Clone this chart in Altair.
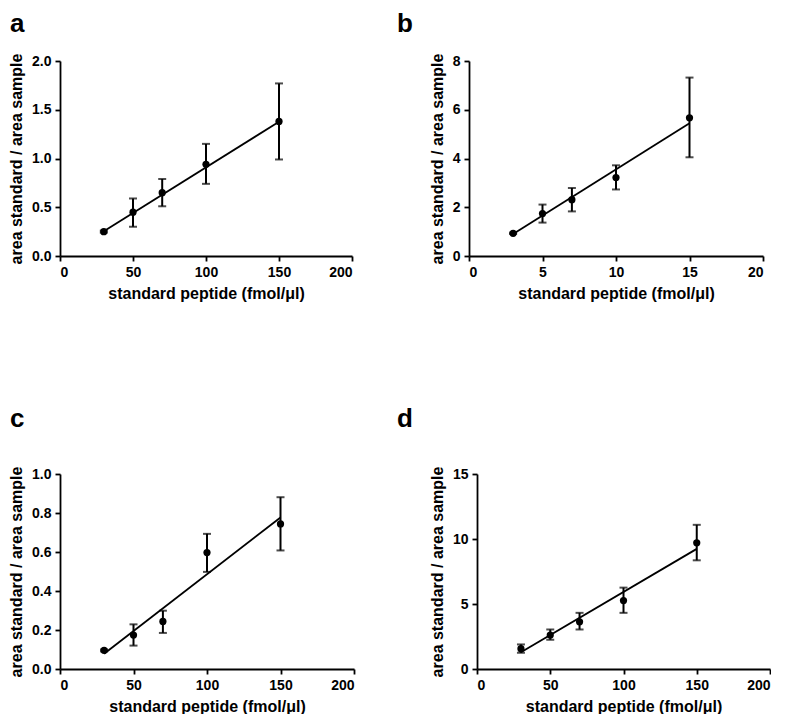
import altair as alt
import pandas as pd

FONT = "Liberation Sans"
XTITLE = "standard peptide (fmol/μl)"
YTITLE = "area standard / area sample"

# ---- data ----
a_x = [30, 50, 70, 100, 150]
a_y = [0.25, 0.45, 0.65, 0.94, 1.38]
a_lo = [0.24, 0.30, 0.51, 0.74, 0.99]
a_hi = [0.26, 0.59, 0.79, 1.15, 1.77]
a_fit_x = [30, 150]
a_fit_y = [0.253, 1.377]

b_x = [3, 5, 7, 10, 15]
b_y = [0.93, 1.74, 2.31, 3.22, 5.67]
b_lo = [0.90, 1.37, 1.83, 2.73, 4.05]
b_hi = [0.96, 2.11, 2.79, 3.72, 7.32]
b_fit_x = [3, 15]
b_fit_y = [0.90, 5.45]

c_x = [30, 50, 70, 100, 150]
c_y = [0.096, 0.174, 0.244, 0.597, 0.744]
c_lo = [0.09, 0.12, 0.185, 0.498, 0.608]
c_hi = [0.10, 0.229, 0.299, 0.693, 0.881]
c_fit_x = [30, 150]
c_fit_y = [0.078, 0.777]

d_x = [30, 50, 70, 100, 150]
d_y = [1.56, 2.61, 3.63, 5.26, 9.71]
d_lo = [1.25, 2.25, 3.04, 4.32, 8.36]
d_hi = [1.89, 3.04, 4.32, 6.26, 11.09]
d_fit_x = [30, 150]
d_fit_y = [1.29, 9.24]

a_xticks = [0, 50, 100, 150, 200]
a_yticks = [0, 0.5, 1.0, 1.5, 2.0]
b_xticks = [0, 5, 10, 15, 20]
b_yticks = [0, 2, 4, 6, 8]
c_xticks = [0, 50, 100, 150, 200]
c_yticks = [0, 0.2, 0.4, 0.6, 0.8, 1.0]
d_xticks = [0, 50, 100, 150, 200]
d_yticks = [0, 5, 10, 15]


def panel(letter, xs, ys, lo, hi, fx, fy, xticks, yticks, yfmt, w, h, dx, offset):
    df = pd.DataFrame({"x": xs, "y": ys, "lo": lo, "hi": hi})
    fit = pd.DataFrame({"x": fx, "y": fy})
    xs_ = alt.Scale(domain=[xticks[0], xticks[-1]], nice=False)
    ys_ = alt.Scale(domain=[yticks[0], yticks[-1]], nice=False)
    xax = alt.Axis(values=xticks, title=XTITLE, format="d")
    yax = alt.Axis(values=yticks, title=YTITLE, format=yfmt)
    X = alt.X("x:Q", scale=xs_, axis=xax)
    Y = alt.Y("y:Q", scale=ys_, axis=yax)
    base = alt.Chart(df)
    line = alt.Chart(fit).mark_line(color="black", strokeWidth=1.8).encode(x=X, y=Y)
    bars = base.mark_rule(color="black", strokeWidth=2).encode(
        x=X, y=alt.Y("lo:Q", scale=ys_, axis=yax), y2="hi:Q")
    cap_lo = base.mark_tick(color="black", orient="horizontal", size=8, thickness=2).encode(
        x=X, y=alt.Y("lo:Q", scale=ys_, axis=yax))
    cap_hi = base.mark_tick(color="black", orient="horizontal", size=8, thickness=2).encode(
        x=X, y=alt.Y("hi:Q", scale=ys_, axis=yax))
    pts = base.mark_circle(color="black", size=52, opacity=1).encode(x=X, y=Y)
    return alt.layer(line, bars, cap_lo, cap_hi, pts).properties(
        width=w, height=h,
        title=alt.TitleParams(text=letter, anchor="start", frame="group", dx=dx,
                              offset=offset, fontSize=26, fontWeight="bold",
                              font=FONT, baseline="alphabetic", color="black"),
    )


pa = panel("a", a_x, a_y, a_lo, a_hi, a_fit_x, a_fit_y, a_xticks, a_yticks, ".1f", 292, 195, -50, -5)
pb = panel("b", b_x, b_y, b_lo, b_hi, b_fit_x, b_fit_y, b_xticks, b_yticks, "d", 294, 195, -72, -5)
pc = panel("c", c_x, c_y, c_lo, c_hi, c_fit_x, c_fit_y, c_xticks, c_yticks, ".1f", 294, 195, -50, 13)
pd_ = panel("d", d_x, d_y, d_lo, d_hi, d_fit_x, d_fit_y, d_xticks, d_yticks, "d", 293, 195, -80, 13)

row1 = alt.hconcat(pa, pb, spacing=117, bounds="flush")
row2 = alt.hconcat(pc, pd_, spacing=123, bounds="flush")

chart = alt.vconcat(row1, row2, spacing=413, bounds="flush").properties(
    padding={"top": 3, "left": 0, "right": 0, "bottom": 0}
).configure_view(stroke=None).configure_axis(
    grid=False,
    domainColor="black", domainWidth=1.8,
    tickColor="black", tickWidth=1.8, tickSize=5,
    labelColor="black", labelFont=FONT, labelFontSize=14, labelFontWeight="bold",
    labelPadding=4,
    titleColor="black", titleFont=FONT, titleFontSize=16, titleFontWeight="bold",
    titlePadding=7,
).configure_axisX(labelPadding=4, titlePadding=6)

chart.save("out.html", embed_options={"renderer": "svg", "actions": False})
